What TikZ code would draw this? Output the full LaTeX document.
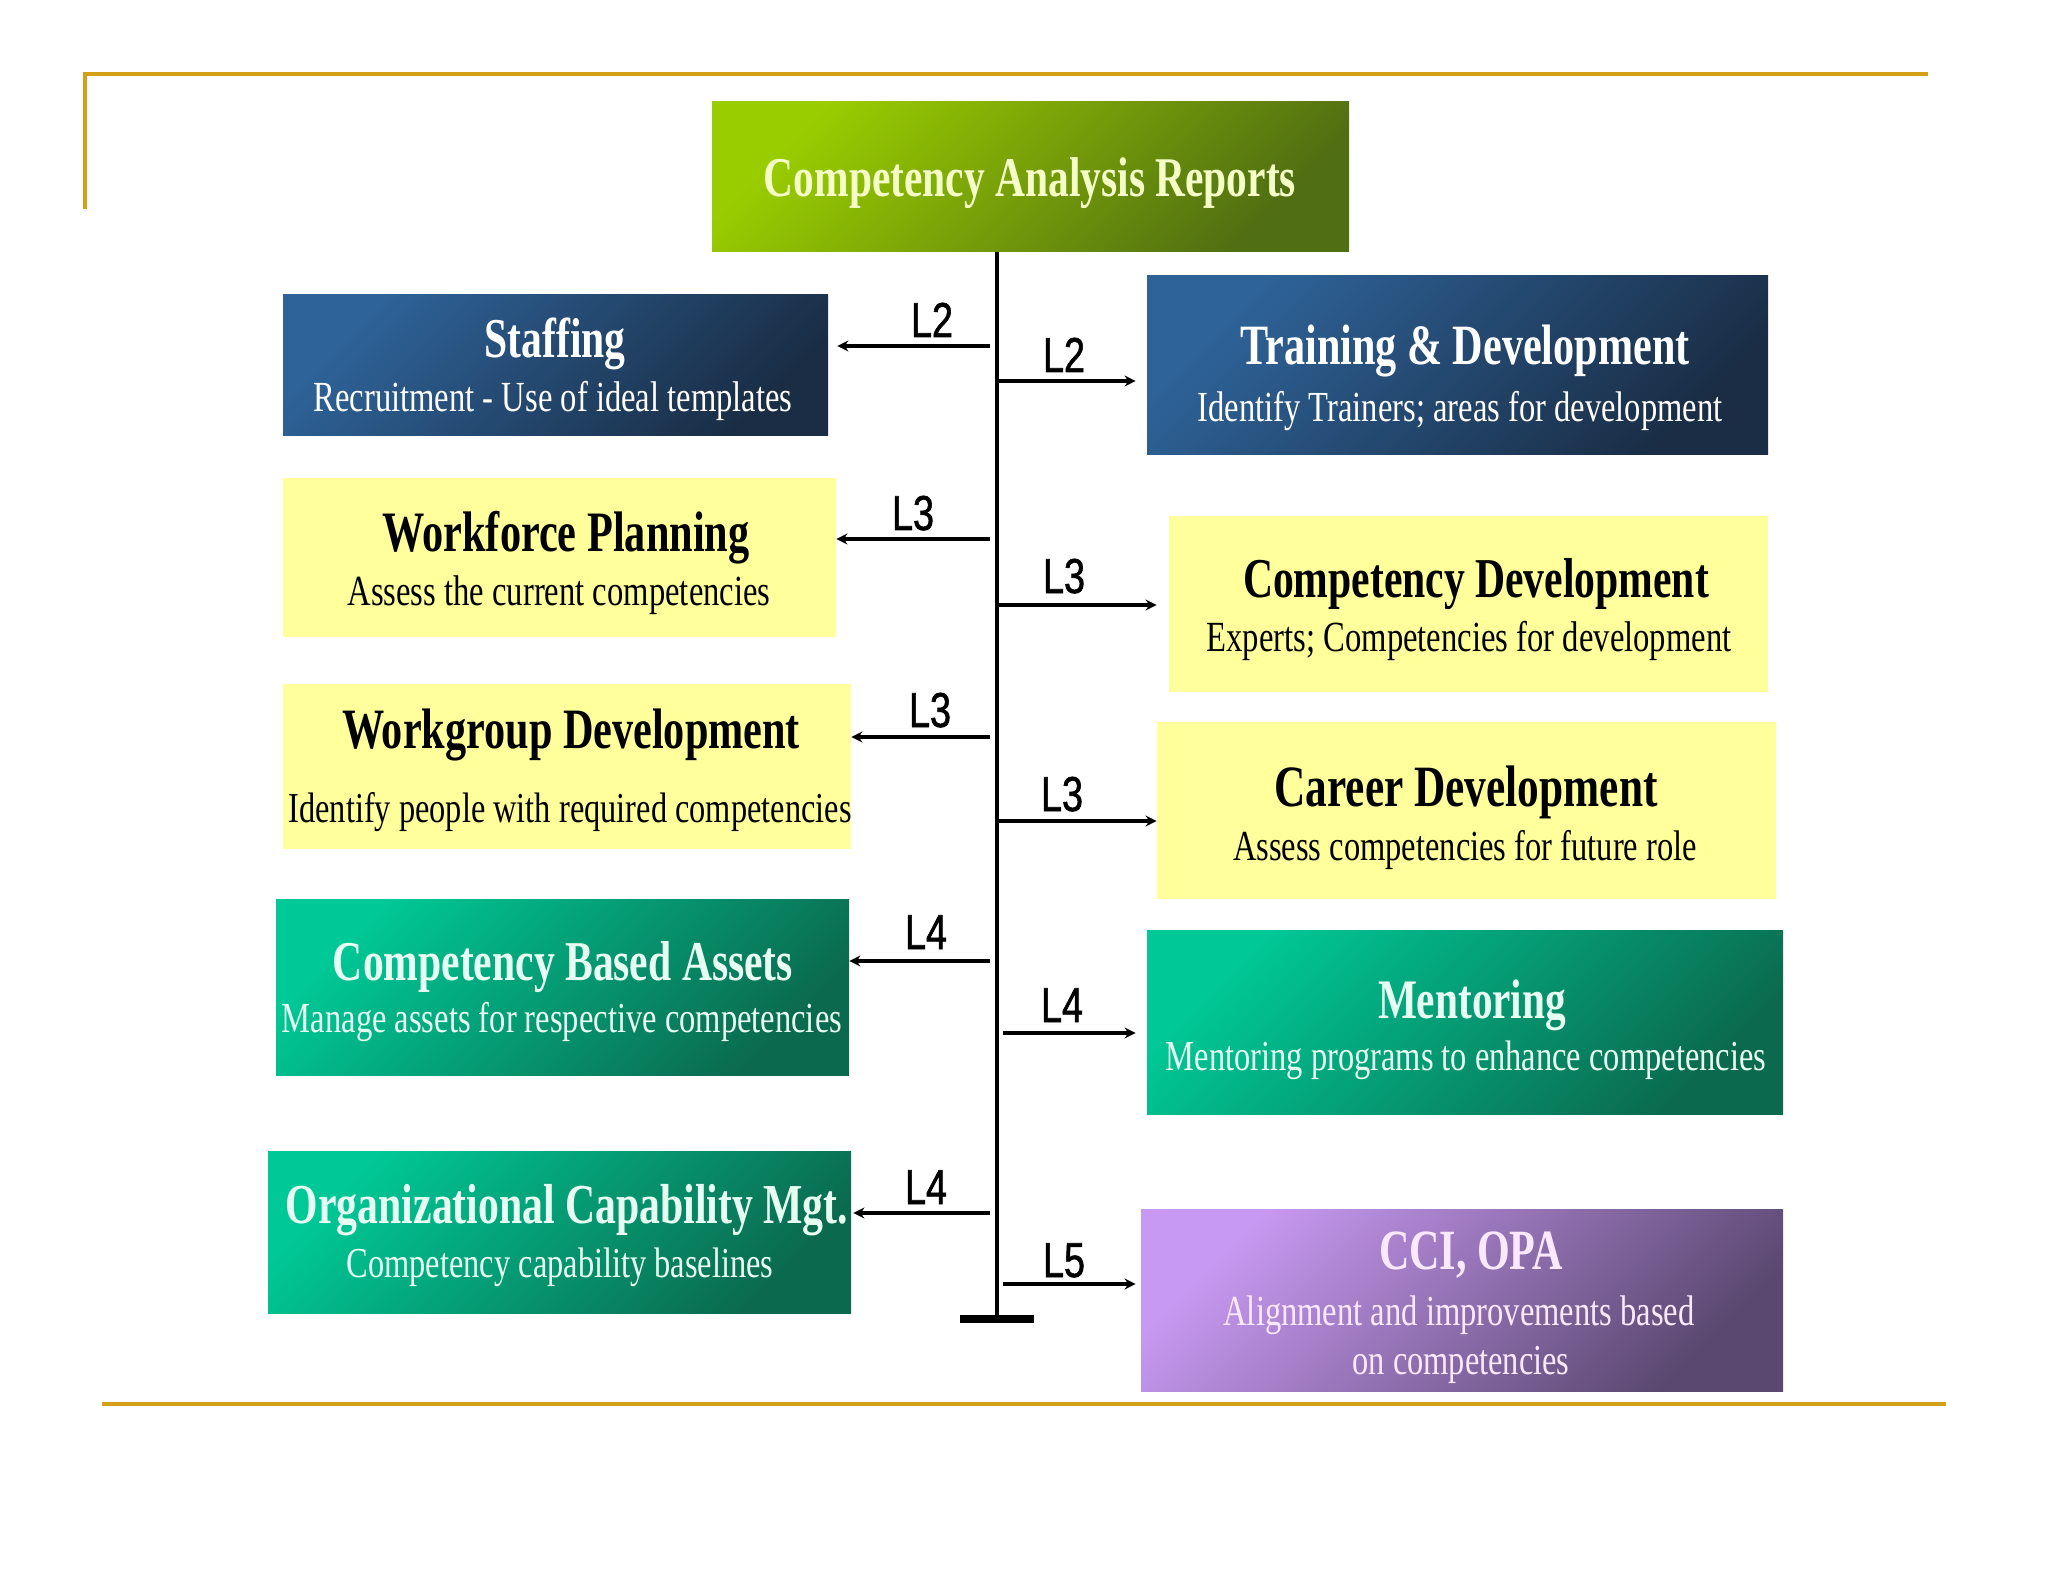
\documentclass[tikz,border=0pt]{standalone}
\usepackage{fontspec}
\setmainfont{Liberation Serif}
\newfontfamily\hdfont[FakeStretch=0.74]{Liberation Serif}
\newfontfamily\sbfont[FakeStretch=0.76]{Liberation Serif}
\newfontfamily\lblfont[FakeStretch=0.77,FakeBold=1.2]{Liberation Sans}
\usetikzlibrary{arrows.meta}
\newcommand\fw[2]{\resizebox{#1}{!}{#2}}
\definecolor{goldline}{HTML}{D4A017}
\definecolor{bluetl}{HTML}{2E6399}
\definecolor{bluebr}{HTML}{1A2D45}
\definecolor{tealtl}{HTML}{00C896}
\definecolor{tealbr}{HTML}{0B6A4E}
\definecolor{purptl}{HTML}{C899F2}
\definecolor{purpbr}{HTML}{5A4870}
\definecolor{greentl}{HTML}{9ACD00}
\definecolor{greenbr}{HTML}{506E12}
\definecolor{yelbox}{HTML}{FFFF9C}
\definecolor{titletxt}{HTML}{F4FFC8}
\definecolor{minttxt}{HTML}{E6FFF2}
\definecolor{pinktxt}{HTML}{FBE8FF}
\tikzset{
  box/.style={rectangle, inner sep=0pt, draw=none},
  bluebox/.style={box, left color=bluetl, right color=bluebr, shading angle=45},
  tealbox/.style={box, left color=tealtl, right color=tealbr, shading angle=45},
  purpbox/.style={box, left color=purptl, right color=purpbr, shading angle=45},
  greenbox/.style={box, left color=greentl, right color=greenbr, shading angle=45},
  yellowbox/.style={box, fill=yelbox},
  hd/.style={inner sep=0pt, anchor=base, font=\hdfont\bfseries},
  sb/.style={inner sep=0pt, anchor=base, font=\sbfont},
  lbl/.style={inner sep=0pt, anchor=base, font=\lblfont, text=black},
  trunkline/.style={line width=2pt, black},
  arr/.style={line width=2pt, black, -{Stealth[length=5.5pt,width=5.5pt]}},
  goldrule/.style={line width=2pt, goldline},
}
\begin{document}
\begin{tikzpicture}[x=0.5pt,y=-0.5pt]
\useasboundingbox (0,0) rectangle (2048,1582);
\fill[white] (0,0) rectangle (2048,1582);

% gold frame
\coordinate (g1) at (85,209);
\coordinate (g2) at (85,74);
\coordinate (g3) at (1928,74);
\coordinate (g4) at (102,1404);
\coordinate (g5) at (1946,1404);
\draw[goldrule] (g1) -- (g2) -- (g3);
\draw[goldrule] (g4) -- (g5);

% boxes
\node[greenbox, minimum width=318.5pt, minimum height=75pt] (title) at (1030.5,177) {};
\node[bluebox, minimum width=272.5pt, minimum height=70.5pt] (staff) at (555.5,365.5) {};
\node[bluebox, minimum width=310.5pt, minimum height=89.5pt] (train) at (1457.5,365.5) {};
\node[yellowbox, minimum width=276.5pt, minimum height=79.5pt] (wfp) at (559.5,557.5) {};
\node[yellowbox, minimum width=299.5pt, minimum height=88pt] (cdev) at (1468.5,604) {};
\node[yellowbox, minimum width=284pt, minimum height=82.5pt] (wgd) at (567,766.5) {};
\node[yellowbox, minimum width=309.5pt, minimum height=88.5pt] (career) at (1466.5,810.5) {};
\node[tealbox, minimum width=286.5pt, minimum height=88pt] (cba) at (562.5,987) {};
\node[tealbox, minimum width=318pt, minimum height=92pt] (ment) at (1465,1022) {};
\node[tealbox, minimum width=291.5pt, minimum height=81pt] (ocm) at (559.5,1232) {};
\node[purpbox, minimum width=321pt, minimum height=91pt] (cci) at (1462,1300) {};

% texts
\node[hd, text=titletxt] (titleT) at (1030,197) {\fw{266pt}{Competency Analysis Reports}};
\node[hd, text=white] (staffH) at (555,358) {\fw{70.5pt}{Staffing}};
\node[sb, text=white] (staffS) at (553,412) {\fw{239.5pt}{Recruitment - Use of ideal templates}};
\node[hd, text=white] (trainH) at (1465,365) {\fw{224.5pt}{Training \& Development}};
\node[sb, text=white] (trainS) at (1460,422) {\fw{262.5pt}{Identify Trainers; areas for development}};
\node[hd, text=black] (wfpH) at (566,552) {\fw{183.5pt}{Workforce Planning}};
\node[sb, text=black] (wfpS) at (559,605) {\fw{211.5pt}{Assess the current competencies}};
\node[hd, text=black] (cdevH) at (1476,597) {\fw{233pt}{Competency Development}};
\node[sb, text=black] (cdevS) at (1469,651) {\fw{262.5pt}{Experts; Competencies for development}};
\node[hd, text=black] (wgdH) at (571,748) {\fw{229pt}{Workgroup Development}};
\node[sb, text=black] (wgdS) at (570,822) {\fw{281.5pt}{Identify people with required competencies}};
\node[hd, text=black] (careerH) at (1466,806) {\fw{191.5pt}{Career Development}};
\node[sb, text=black] (careerS) at (1465,860) {\fw{232pt}{Assess competencies for future role}};
\node[hd, text=minttxt] (cbaH) at (563,980) {\fw{230pt}{Competency Based Assets}};
\node[sb, text=minttxt] (cbaS) at (562,1032) {\fw{280pt}{Manage assets for respective competencies}};
\node[hd, text=minttxt] (mentH) at (1472,1018) {\fw{94pt}{Mentoring}};
\node[sb, text=minttxt] (mentS) at (1466,1070) {\fw{300pt}{Mentoring programs to enhance competencies}};
\node[hd, text=minttxt] (ocmH) at (567,1223) {\fw{281pt}{Organizational Capability Mgt.}};
\node[sb, text=minttxt] (ocmS) at (560,1277) {\fw{213.5pt}{Competency capability baselines}};
\node[hd, text=pinktxt] (cciH) at (1471,1269) {\fw{92pt}{CCI, OPA}};
\node[sb, text=pinktxt] (cciS1) at (1459,1325) {\fw{235.5pt}{Alignment and improvements based}};
\node[sb, text=pinktxt] (cciS2) at (1461,1374) {\fw{108.5pt}{on competencies}};

% trunk
\coordinate (tb) at (997,1319);
\draw[trunkline] (title.south -| tb) -- (tb);
\draw[line width=4pt] ([xshift=-18.5pt]tb) -- ([xshift=18.5pt]tb);

% left arrows
\coordinate (la1) at (990,346);
\coordinate (la2) at (990,539);
\coordinate (la3) at (990,737);
\coordinate (la4) at (990,961);
\coordinate (la5) at (990,1213);
\draw[arr, shorten >=4.5pt] (la1) -- (la1 -| staff.east);
\draw[arr, shorten >=0pt] (la2) -- (la2 -| wfp.east);
\draw[arr, shorten >=0pt] (la3) -- (la3 -| wgd.east);
\draw[arr, shorten >=0pt] (la4) -- (la4 -| cba.east);
\draw[arr, shorten >=1pt] (la5) -- (la5 -| ocm.east);
% right arrows
\coordinate (ra1) at (997,381);
\coordinate (ra2) at (997,605);
\coordinate (ra3) at (997,821);
\coordinate (ra4) at (1003,1033);
\coordinate (ra5) at (1003,1284);
\draw[arr, shorten >=5.5pt] (ra1) -- (ra1 -| train.west);
\draw[arr, shorten >=6pt] (ra2) -- (ra2 -| cdev.west);
\draw[arr, shorten >=0pt] (ra3) -- (ra3 -| career.west);
\draw[arr, shorten >=5.5pt] (ra4) -- (ra4 -| ment.west);
\draw[arr, shorten >=2.5pt] (ra5) -- (ra5 -| cci.west);

% level labels
\node[lbl] (l1) at (932,337) {\fw{21pt}{L2}};
\node[lbl] (l2) at (913,530) {\fw{21pt}{L3}};
\node[lbl] (l3) at (930,727) {\fw{21pt}{L3}};
\node[lbl] (l4) at (926,949) {\fw{21pt}{L4}};
\node[lbl] (l5) at (926,1204) {\fw{21pt}{L4}};
\node[lbl] (r1) at (1064,372) {\fw{21pt}{L2}};
\node[lbl] (r2) at (1064,593) {\fw{21pt}{L3}};
\node[lbl] (r3) at (1062,811) {\fw{21pt}{L3}};
\node[lbl] (r4) at (1062,1022) {\fw{21pt}{L4}};
\node[lbl] (r5) at (1064,1277) {\fw{21pt}{L5}};
\end{tikzpicture}
\end{document}
